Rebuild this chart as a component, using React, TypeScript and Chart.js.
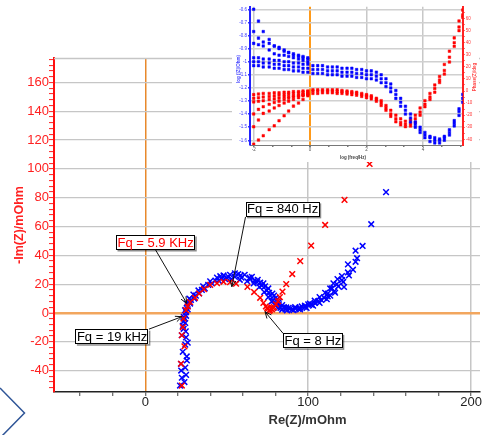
import React, { useEffect, useRef } from "react";
import { Chart, registerables } from "chart.js";

Chart.register(...registerables);

const FONT = '"Liberation Sans", Arial, Helvetica, sans-serif';

// ---------- Main Nyquist plot (Re(Z)/mOhm vs -Im(Z)/mOhm) ----------
const redRe = [22.4, 21.9, 24.0, 22.4, 23.0, 23.4, 25.0, 26.0, 27.5, 30.5, 33.0, 36.0, 39.8, 44.0, 48.0, 52.0, 55.7, 62.7, 66.8, 70.5, 72.5, 74.0, 74.8, 75.2, 76.0, 76.5, 77.0, 77.8, 78.3, 79.0, 80.2, 81.5, 82.6, 84.2, 86.5, 90.2, 95.1, 101.8, 110.4, 122.3, 137.7];
const redIm = [-50.4, -35.3, -23.2, -15.5, -9.8, -3.9, 1.9, 4.5, 7.5, 10.5, 13.5, 16.5, 19.5, 20.6, 21.6, 21.3, 20.3, 18.1, 14.5, 10.5, 7.0, 4.5, 3.5, 2.8, 1.4, 2.0, 3.0, 2.5, 3.5, 4.0, 6.0, 8.2, 11.0, 14.8, 20.0, 27.0, 36.0, 46.7, 61.1, 78.5, 103.4];

const blueARe = [21.3, 25.0, 21.9, 25.4, 26.0, 24.8, 23.4, 23.6, 24.4, 25.4, 27.0, 29.5, 32.6, 35.5, 39.8, 44.0, 48.0, 52.0, 57.0, 61.0, 65.4, 69.0, 72.5, 75.5, 78.0, 80.0, 82.0, 84.0, 86.5, 89.0, 92.0, 95.0, 98.0, 101.0, 104.0, 107.0, 110.4, 113.5, 115.5, 118.0, 120.7, 124.4, 129.1, 133.4, 138.7, 147.8];
const blueAIm = [-50.4, -43.0, -35.3, -30.2, -20.6, -12.8, -6.0, -2.8, 1.9, 6.5, 10.0, 12.8, 15.6, 18.5, 22.0, 24.5, 26.0, 26.5, 27.0, 26.5, 25.0, 23.0, 20.5, 17.0, 13.5, 10.5, 7.5, 5.4, 3.8, 3.0, 3.0, 3.6, 5.0, 6.5, 8.5, 11.0, 14.0, 17.0, 20.5, 23.5, 25.6, 33.7, 43.2, 46.5, 61.6, 83.9];

const blueBRe = [22.4, 24.5, 23.0, 22.4, 23.0, 24.0, 25.0, 26.0, 28.0, 31.0, 34.7, 38.6, 43.0, 47.0, 51.0, 55.0, 59.0, 64.4, 68.6, 71.5, 74.6, 76.6, 78.5, 80.5, 83.0, 86.0, 90.0, 94.0, 98.0, 102.0, 106.0, 109.8, 112.0, 114.6, 117.6, 120.7, 124.4, 129.1];
const blueBIm = [-45.0, -38.0, -27.0, -15.5, -9.0, -4.0, 0.5, 4.5, 9.0, 12.0, 16.0, 19.5, 22.5, 24.0, 25.1, 25.0, 24.5, 23.3, 21.4, 19.0, 15.5, 12.0, 8.5, 5.5, 3.5, 2.5, 2.2, 2.8, 4.0, 5.8, 8.0, 10.5, 13.5, 17.0, 20.0, 22.8, 28.1, 35.5];

const blueCRe = [24.0, 22.0, 25.5, 24.5, 25.0, 23.5, 24.5, 25.0, 26.0, 27.5, 30.0, 33.0, 36.5, 40.8, 45.0, 49.0, 53.0, 58.0, 62.5, 66.5, 70.0, 73.0, 75.5, 77.5, 79.5, 81.5, 84.0, 87.0, 91.0, 95.0, 99.0, 103.0, 107.0, 111.4, 113.5, 116.0, 118.5, 121.5, 125.0, 127.5];
const blueCIm = [-48.0, -40.0, -33.0, -22.0, -17.0, -11.0, -7.0, -2.0, 2.5, 6.5, 10.0, 13.5, 17.0, 20.5, 22.5, 23.5, 23.5, 23.0, 22.0, 20.5, 18.0, 14.5, 11.0, 8.0, 5.5, 3.5, 2.3, 1.8, 1.9, 2.5, 3.5, 5.0, 7.0, 9.5, 12.0, 15.0, 18.5, 21.5, 26.0, 30.0];

const blueDRe = [46.0, 50.0, 55.0, 58.5, 64.0, 67.0, 70.5, 73.5, 76.0, 79.0, 80.5, 82.0, 85.0, 88.0, 92.0, 96.0, 100.0, 104.0, 108.0, 112.0, 116.5, 122.0, 130.0];
const blueDIm = [25.5, 24.5, 27.5, 26.0, 24.5, 22.5, 21.0, 18.5, 14.0, 12.0, 9.0, 6.0, 4.0, 3.5, 4.0, 4.5, 6.0, 7.0, 9.0, 11.5, 14.0, 18.0, 38.0];

const xLabelValues = [0, 100, 200];
const yLabelValues = [-40, -20, 0, 20, 40, 60, 80, 100, 120, 140, 160];

// annotations (data coordinates)
const annoText = ["Fq = 5.9 KHz", "Fq = 840 Hz", "Fq = 19 kHz", "Fq = 8 Hz"];
const annoColor = ["#FF0000", "#000000", "#000000", "#000000"];
const annoBoxRe = [6.3, 84.3, -20.4, 102.9];
const annoBoxIm = [48.9, 71.9, -16.5, -19.4];
const annoAnchorX = [0, -1, 1, -1];
const annoAnchorY = [1, 1, -1, -1];
const annoTipRe = [25.4, 53.1, 22.4, 73.5];
const annoTipIm = [6.7, 18.2, -2.6, 0.8];

// ---------- Inset Bode plot ----------
const insetLogF = [-2, -1.83, -1.66, -1.45, -1.27, -1.1, -0.92, -0.76, -0.59, -0.41, -0.25, -0.08, 0.1, 0.27, 0.44, 0.62, 0.79, 0.96, 1.13, 1.31, 1.48, 1.65, 1.83, 2.0, 2.17, 2.35, 2.52, 2.69, 2.86, 3.04, 3.21, 3.38, 3.56, 3.73, 3.9, 4.07, 4.25, 4.42, 4.59, 4.76, 4.94, 5.11, 5.28, 5.41];
const insetZMid = [-1.0, -1.0, -1.01, -1.01, -1.02, -1.02, -1.03, -1.03, -1.04, -1.04, -1.05, -1.05, -1.06, -1.06, -1.06, -1.07, -1.07, -1.07, -1.08, -1.08, -1.08, -1.09, -1.09, -1.1, -1.1, -1.11, -1.13, -1.16, -1.2, -1.25, -1.31, -1.37, -1.43, -1.48, -1.52, -1.56, -1.58, -1.6, -1.6, -1.58, -1.54, -1.47, -1.38, -1.28];
const insetZUp = [-0.97, -0.97, -0.98, -0.98, -0.99, -0.99, -1.0, -1.0, -1.01, -1.01, -1.02, -1.02, -1.03, -1.03, -1.03, -1.04, -1.04, -1.04, -1.05, -1.05, -1.05, -1.06, -1.06, -1.07, -1.07, -1.08, -1.1, -1.13, -1.17, -1.22, -1.28, -1.34, -1.4, -1.46, -1.5, -1.54, -1.57, -1.58, -1.59, -1.57, -1.52, -1.45, -1.36, -1.25];
const insetZLow = [-1.03, -1.03, -1.04, -1.04, -1.05, -1.05, -1.06, -1.06, -1.07, -1.07, -1.08, -1.08, -1.09, -1.09, -1.09, -1.1, -1.1, -1.1, -1.11, -1.11, -1.11, -1.12, -1.12, -1.13, -1.13, -1.14, -1.16, -1.19, -1.23, -1.28, -1.34, -1.4, -1.46, -1.5, -1.54, -1.58, -1.61, -1.62, -1.62, -1.6, -1.56, -1.49, -1.41, -1.31];
const insetZFanA = [-0.6, -0.69, -0.77, -0.83, -0.88, -0.89, -0.91, -0.93, -0.94, -0.95, -0.96, -0.97];
const insetZFanB = [-0.77, -0.82, -0.85, -0.86, -0.88, -0.9, -0.92, -0.93, -0.95, -0.96, -0.97, -0.98];
const insetZFanC = [-0.86, -0.87, -0.88, -0.91, -0.94, -0.95, -0.95, -0.96, -0.97, -0.98, -0.99, -1.0];

const insetPhMid = [-6, -5.5, -5, -4.5, -4, -3.5, -3, -2.5, -2, -1.5, -1, -0.5, 0, 0, 0, 0, 0, -0.5, -0.5, -1, -1.5, -2, -3, -4, -5, -7, -10, -14, -19, -23, -26, -27.5, -27, -23, -17.5, -11, -5, 2, 9, 17, 28, 40, 53, 63];
const insetPhUp = [-3, -2.5, -2, -2, -1.5, -1.5, -1, -1, -0.5, -0.5, 0, 0, 1, 1, 1, 1, 1, 1, 0.5, 0, -0.5, -1, -2, -3, -4, -6, -8, -12, -16, -20, -23, -25, -24, -20, -14, -8, -2, 5, 12, 22, 33, 44, 58, 67];
const insetPhLow = [-9, -8.5, -8, -7, -6.5, -6, -5, -4.5, -4, -3.5, -3, -2.5, -2, -2, -1.5, -1.5, -1.5, -2, -2, -2.5, -3, -3.5, -4.5, -5.5, -6.5, -8.5, -12, -16, -21, -25.5, -28, -29.5, -29, -26, -20, -13, -7, -1, 7, 14, 24, 37, 50, 61];
const insetPhFanA = [-44, -40.6, -37, -32, -28.8, -24.6, -20.5, -16.6, -12.5, -10, -7, -4];
const insetPhFanB = [-29.6, -24, -18.5, -16.6, -14, -12, -10, -8.5, -7, -5.5, -4, -3];
const insetPhFanC = [-19, -15.2, -13, -11, -9.5, -8.5, -7, -6, -5, -4, -3, -2];

const insetXTickValues = [-2, -1.333, -0.667, 0, 0.667, 1.333, 2, 2.667, 3.333, 4, 4.667, 5.333];
const insetXLabelValues = [-2, 0, 2, 4];

const RED = "#FF0000";
const BLUE = "#0000FF";
const GRID = "#c6c6c6";
const CLEAR = "rgba(0,0,0,0)";

const pts = (xs: number[], ys: number[]) => ys.map((y, i) => ({ x: xs[i], y }));

function mainConfig(): any {
  const mk = (label: string, xs: number[], ys: number[], color: string) => ({
    label,
    data: pts(xs, ys),
    pointStyle: "crossRot",
    pointRadius: 4,
    pointBorderWidth: 1.5,
    borderColor: color,
    backgroundColor: color,
    showLine: false,
  });
  const decor = {
    id: "mainDecor",
    afterDraw(chart: any) {
      const { ctx, chartArea, scales } = chart;
      const xs = scales.x;
      const ys = scales.y;
      ctx.save();
      // top frame line
      ctx.strokeStyle = GRID;
      ctx.lineWidth = 1.5;
      ctx.beginPath();
      ctx.moveTo(chartArea.left, chartArea.top + 0.5);
      ctx.lineTo(chartArea.right, chartArea.top + 0.5);
      ctx.stroke();
      // axis titles
      ctx.fillStyle = "#333";
      ctx.font = `bold 13px ${FONT}`;
      ctx.textAlign = "center";
      ctx.textBaseline = "middle";
      ctx.fillText("Re(Z)/mOhm", 307.5, 420);
      ctx.save();
      ctx.translate(19.5, 225);
      ctx.rotate(-Math.PI / 2);
      ctx.fillStyle = "#FF2020";
      ctx.font = `bold 12.5px ${FONT}`;
      ctx.fillText("-Im(Z)/mOhm", 0, 0);
      ctx.restore();
      // annotations
      ctx.font = `13px ${FONT}`;
      annoText.forEach((t, i) => {
        const cx = xs.getPixelForValue(annoBoxRe[i]);
        const cy = ys.getPixelForValue(annoBoxIm[i]);
        const w = ctx.measureText(t).width + 3;
        const h = 15;
        const left = cx - w / 2;
        const top = cy - h / 2;
        const sx = cx + (annoAnchorX[i] * w) / 2;
        const sy = cy + (annoAnchorY[i] * h) / 2;
        const tx = xs.getPixelForValue(annoTipRe[i]);
        const ty = ys.getPixelForValue(annoTipIm[i]);
        ctx.strokeStyle = "#111";
        ctx.lineWidth = 1;
        ctx.beginPath();
        ctx.moveTo(sx, sy);
        ctx.lineTo(tx, ty);
        ctx.stroke();
        const ang = Math.atan2(ty - sy, tx - sx);
        const L = 7;
        const sp = 0.42;
        ctx.beginPath();
        ctx.moveTo(tx - L * Math.cos(ang - sp), ty - L * Math.sin(ang - sp));
        ctx.lineTo(tx, ty);
        ctx.lineTo(tx - L * Math.cos(ang + sp), ty - L * Math.sin(ang + sp));
        ctx.stroke();
        ctx.fillStyle = "rgba(0,0,0,0.45)";
        ctx.fillRect(left + 1.5, top + 1.5, w, h);
        ctx.fillStyle = "#fff";
        ctx.fillRect(left, top, w, h);
        ctx.strokeStyle = "#000";
        ctx.strokeRect(Math.round(left) + 0.5, Math.round(top) + 0.5, Math.round(w) - 1, h - 1);
        ctx.fillStyle = annoColor[i];
        ctx.textAlign = "center";
        ctx.textBaseline = "middle";
        ctx.fillText(t, cx, cy + 0.5);
      });
      // decorative chevron bottom-left
      ctx.strokeStyle = "#2F5597";
      ctx.lineWidth = 1.5;
      ctx.beginPath();
      ctx.moveTo(0, 388);
      ctx.lineTo(24.5, 413);
      ctx.lineTo(0, 438);
      ctx.stroke();
      ctx.restore();
    },
  };
  return {
    type: "scatter",
    data: {
      datasets: [
        mk("red", redRe, redIm, RED),
        mk("blueA", blueARe, blueAIm, BLUE),
        mk("blueB", blueBRe, blueBIm, BLUE),
        mk("blueC", blueCRe, blueCIm, BLUE),
        mk("blueD", blueDRe, blueDIm, BLUE),
      ],
    },
    options: {
      animation: false,
      responsive: false,
      events: [],
      layout: { padding: { left: 0, top: 58, right: 12, bottom: 0 } },
      plugins: { legend: { display: false }, tooltip: { enabled: false } },
      scales: {
        x: {
          type: "linear",
          min: -56.1,
          max: 205.5,
          afterFit: (s: any) => {
            s.height = 43;
          },
          ticks: {
            stepSize: 20,
            includeBounds: false,
            autoSkip: false,
            maxRotation: 0,
            padding: 0,
            color: "#222",
            font: { family: FONT, size: 13, lineHeight: 1 },
            callback: (v: any) => (xLabelValues.includes(v) ? String(v) : ""),
          },
          grid: {
            color: (c: any) => {
              const v = c.tick ? c.tick.value : NaN;
              if (v === 0) return "#E8892C";
              return xLabelValues.includes(v) ? GRID : CLEAR;
            },
            lineWidth: (c: any) => (c.tick && c.tick.value === 0 ? 1.5 : 1.5),
            tickColor: "#444",
            tickLength: 4,
            tickWidth: 1,
          },
          border: { color: "#222", width: 1.5 },
        },
        y: {
          type: "linear",
          min: -54.9,
          max: 177,
          afterFit: (s: any) => {
            s.width = 54;
          },
          ticks: {
            stepSize: 4,
            includeBounds: false,
            autoSkip: false,
            padding: 0,
            color: "#FF2020",
            font: { family: FONT, size: 13 },
            callback: (v: any) => (yLabelValues.includes(v) ? String(v) : ""),
          },
          grid: {
            color: (c: any) => {
              const v = c.tick ? c.tick.value : NaN;
              if (v === 0) return "#F2A65E";
              return yLabelValues.includes(v) ? GRID : CLEAR;
            },
            lineWidth: (c: any) => (c.tick && c.tick.value === 0 ? 2.5 : 1.2),
            tickColor: "#FF2020",
            tickLength: 5,
            tickWidth: 1,
          },
          border: { color: "#FF1010", width: 2 },
        },
      },
    },
    plugins: [decor],
  };
}

function insetConfig(): any {
  const fanX = insetLogF.slice(0, 12);
  const mk = (label: string, xs: number[], ys: number[], color: string, axis: string) => ({
    label,
    data: pts(xs, ys),
    yAxisID: axis,
    pointStyle: "rect",
    pointRadius: 1.8,
    pointBorderWidth: 0.5,
    borderColor: color,
    backgroundColor: color,
    showLine: false,
  });
  const decor = {
    id: "insetDecor",
    afterDraw(chart: any) {
      const { ctx } = chart;
      ctx.save();
      ctx.textAlign = "center";
      ctx.textBaseline = "middle";
      ctx.font = `bold 4.5px ${FONT}`;
      ctx.fillStyle = "#444";
      ctx.fillText("log (freq/Hz)", 121, 157.5);
      ctx.save();
      ctx.translate(6.5, 69);
      ctx.rotate(-Math.PI / 2);
      ctx.fillStyle = "#4444ff";
      ctx.fillText("log (|Z|/Ohm)", 0, 0);
      ctx.restore();
      ctx.save();
      ctx.translate(243, 77);
      ctx.rotate(-Math.PI / 2);
      ctx.fillStyle = "#ff4444";
      ctx.fillText("Phase(Z)/deg", 0, 0);
      ctx.restore();
      ctx.restore();
    },
  };
  return {
    type: "scatter",
    data: {
      datasets: [
        mk("zMid", insetLogF, insetZMid, BLUE, "y"),
        mk("zUp", insetLogF, insetZUp, BLUE, "y"),
        mk("zLow", insetLogF, insetZLow, BLUE, "y"),
        mk("zFanA", fanX, insetZFanA, BLUE, "y"),
        mk("zFanB", fanX, insetZFanB, BLUE, "y"),
        mk("zFanC", fanX, insetZFanC, BLUE, "y"),
        mk("phMid", insetLogF, insetPhMid, RED, "y2"),
        mk("phUp", insetLogF, insetPhUp, RED, "y2"),
        mk("phLow", insetLogF, insetPhLow, RED, "y2"),
        mk("phFanA", fanX, insetPhFanA, RED, "y2"),
        mk("phFanB", fanX, insetPhFanB, RED, "y2"),
        mk("phFanC", fanX, insetPhFanC, RED, "y2"),
      ],
    },
    options: {
      animation: false,
      responsive: false,
      events: [],
      layout: { padding: { left: 0, top: 6.7, right: 0, bottom: 0 } },
      plugins: { legend: { display: false }, tooltip: { enabled: false } },
      scales: {
        x: {
          type: "linear",
          min: -2.13,
          max: 5.41,
          afterFit: (s: any) => {
            s.height = 17;
          },
          afterBuildTicks: (s: any) => {
            s.ticks = insetXTickValues.map((v) => ({ value: v }));
          },
          ticks: {
            autoSkip: false,
            maxRotation: 0,
            padding: 1,
            color: "#555",
            font: { family: FONT, size: 4.5, lineHeight: 1 },
            callback: (v: any) => (insetXLabelValues.includes(v) ? String(v) : ""),
          },
          grid: {
            color: (c: any) => {
              const v = c.tick ? c.tick.value : NaN;
              if (v === 0) return "#FF9A1A";
              return insetXLabelValues.includes(v) ? "#c8c8c8" : CLEAR;
            },
            lineWidth: (c: any) => (c.tick && c.tick.value === 0 ? 2 : 1.5),
            tickColor: "#777",
            tickLength: 2,
          },
          border: { color: "#777", width: 1 },
        },
        y: {
          type: "linear",
          position: "left",
          min: -1.636,
          max: -0.58,
          afterFit: (s: any) => {
            s.width = 18;
          },
          ticks: {
            stepSize: 0.1,
            includeBounds: false,
            autoSkip: false,
            padding: 1,
            color: "#3333ff",
            font: { family: FONT, size: 4.5 },
            callback: (v: any) => String(Math.round(v * 10) / 10),
          },
          grid: { color: "#d0d0d0", lineWidth: 1.5, tickColor: "#3333ff", tickLength: 2 },
          border: { color: "#2222ff", width: 2 },
        },
        y2: {
          type: "linear",
          position: "right",
          min: -44.7,
          max: 69.8,
          afterFit: (s: any) => {
            s.width = 16.3;
          },
          ticks: {
            stepSize: 5,
            includeBounds: false,
            autoSkip: false,
            padding: 1,
            color: "#ff3333",
            font: { family: FONT, size: 4.5 },
            callback: (v: any) => (v % 10 === 0 ? String(v) : ""),
          },
          grid: { drawOnChartArea: false, tickColor: "#ff3333", tickLength: 2 },
          border: { color: "#ff2222", width: 2 },
        },
      },
    },
    plugins: [decor],
  };
}

export default function App() {
  const mainRef = useRef<HTMLCanvasElement>(null);
  const insetRef = useRef<HTMLCanvasElement>(null);
  useEffect(() => {
    Chart.defaults.font.family = FONT;
    const c1 = new Chart(mainRef.current as HTMLCanvasElement, mainConfig());
    const c2 = new Chart(insetRef.current as HTMLCanvasElement, insetConfig());
    return () => {
      c1.destroy();
      c2.destroy();
    };
  }, []);
  return (
    <div style={{ position: "fixed", left: 0, top: 0, width: 492, height: 435, background: "#fff", overflow: "hidden" }}>
      <canvas ref={mainRef} width={492} height={435} style={{ position: "absolute", left: 0, top: 0 }} />
      <canvas
        ref={insetRef}
        width={247}
        height={162}
        style={{ position: "absolute", left: 232, top: 0, background: "#fff" }}
      />
    </div>
  );
}
